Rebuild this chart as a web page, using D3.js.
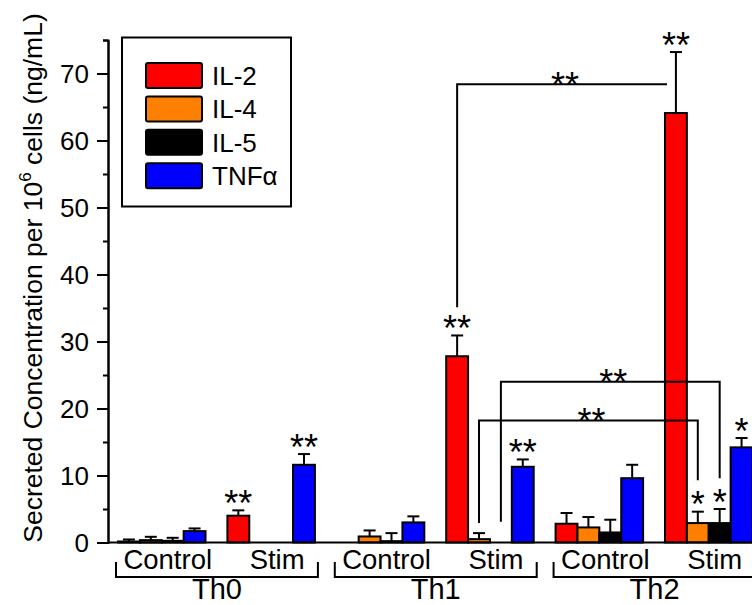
<!DOCTYPE html>
<html><head><meta charset="utf-8">
<script src="https://cdn.jsdelivr.net/npm/d3@7"></script>
<style>body{margin:0;background:#fff}svg{display:block;font-family:"Liberation Sans",Arial,Helvetica,sans-serif}</style>
</head><body><svg id="c" width="752" height="605"></svg>
<script>
// ---------- data ----------
const cells = ["Th0", "Th1", "Th2"];
const conditions = ["Control", "Stim"];
const groups = ["Th0|Control", "Th0|Stim", "Th1|Control", "Th1|Stim", "Th2|Control", "Th2|Stim"];
const cytokines = ["IL-2", "IL-4", "IL-5", "TNFα"];
const colors = ["#ff0000", "#ff8000", "#000000", "#0000ff"];

const il2Values  = [0.15, 4.0, 0,   27.8, 2.8,  64.1];
const il2Errors  = [0.3,  0.8, 0,   3.1,  1.6,  9.1];
const il4Values  = [0.35, 0,   0.9, 0.5,  2.25, 2.9];
const il4Errors  = [0.5,  0,   0.9, 0.9,  1.55, 1.7];
const il5Values  = [0.25, 0,   0.2, 0,    1.5,  2.9];
const il5Errors  = [0.45, 0,   1.2, 0,    1.9,  2.1];
const tnfValues  = [1.7,  11.6, 3.0, 11.3, 9.6, 14.2];
const tnfErrors  = [0.4,  1.6,  0.9, 1.1,  2.0, 1.4];

const yTicks = [0, 10, 20, 30, 40, 50, 60, 70];
const yMinorTicks = [5, 15, 25, 35, 45, 55, 65, 75];

// significance stars above bars
const starGroups    = ["Th0|Stim", "Th0|Stim", "Th1|Stim", "Th1|Stim", "Th2|Stim", "Th2|Stim", "Th2|Stim", "Th2|Stim"];
const starCytokines = ["IL-2", "TNFα", "IL-2", "TNFα", "IL-2", "IL-4", "IL-5", "TNFα"];
const starLabels    = ["**", "**", "**", "**", "**", "*", "*", "*"];

// comparison brackets
const bracketFrom      = [["Th1|Stim", "IL-2"], ["Th1|Stim", "IL-5"], ["Th1|Stim", "IL-4"]];
const bracketTo        = [["Th2|Stim", "IL-2"], ["Th2|Stim", "IL-5"], ["Th2|Stim", "IL-4"]];
const bracketLevel     = [68.4, 24.0, 18.2];
const bracketFromEnd   = [35.1, 3.1, 2.9];
const bracketToEnd     = [null, 9.6, 9.3];
const bracketLabels    = ["**", "**", "**"];

const yTitle = "Secreted Concentration per 10";
const yTitleSup = "6";
const yTitleEnd = " cells (ng/mL)";

// ---------- build ----------
const valuesBy = [il2Values, il4Values, il5Values, tnfValues];
const errorsBy = [il2Errors, il4Errors, il5Errors, tnfErrors];
const rows = [];
groups.forEach((g, gi) => cytokines.forEach((c, ci) => {
  rows.push({group: g, cytokine: c, value: valuesBy[ci][gi], error: errorsBy[ci][gi], color: colors[ci]});
}));
const lookup = (g, c) => rows.find(r => r.group === g && r.cytokine === c);

const svg = d3.select("#c");
const y = d3.scaleLinear().domain([0, 75]).range([542.5, 40]);
const x0 = d3.scaleBand().domain(groups).range([118, 752.5]).paddingInner(0.2).paddingOuter(0);
const x1 = d3.scaleBand().domain(cytokines).range([0, x0.bandwidth()]);
const axisX = 108;
const barCenter = (g, c) => x0(g) + x1(c) + x1.bandwidth() / 2;

// bars
const barsG = svg.append("g");
barsG.selectAll("rect").data(rows.filter(r => r.value > 0)).join("rect")
  .attr("x", d => x0(d.group) + x1(d.cytokine))
  .attr("y", d => y(d.value))
  .attr("width", x1.bandwidth())
  .attr("height", d => y(0) - y(d.value))
  .attr("fill", d => d.color)
  .attr("stroke", "#000").attr("stroke-width", 2);

// error bars
const errG = svg.append("g").attr("stroke", "#000").attr("stroke-width", 2);
rows.filter(r => r.error > 0).forEach(d => {
  const cx = barCenter(d.group, d.cytokine);
  errG.append("line").attr("x1", cx).attr("x2", cx).attr("y1", y(d.value)).attr("y2", y(d.value + d.error));
  errG.append("line").attr("x1", cx - 6).attr("x2", cx + 6).attr("y1", y(d.value + d.error)).attr("y2", y(d.value + d.error));
});

// axis
const axis = svg.append("g").attr("transform", `translate(${axisX},0)`)
  .call(d3.axisLeft(y).tickValues(yTicks).tickSize(11).tickSizeOuter(0).tickPadding(8).tickFormat(d3.format("d")));
axis.select(".domain").attr("stroke-width", 2);
axis.selectAll(".tick line").attr("stroke-width", 2);
axis.selectAll(".tick text").attr("font-size", 26).attr("font-family", '"Liberation Sans",Arial,sans-serif').attr("fill", "#000").attr("dy", "0.36em");
const minor = svg.append("g").attr("transform", `translate(${axisX},0)`)
  .call(d3.axisLeft(y).tickValues(yMinorTicks).tickSize(5).tickFormat(""));
minor.select(".domain").attr("stroke-width", 2);
minor.selectAll(".tick line").attr("stroke-width", 2);
// baseline
svg.append("line").attr("x1", axisX).attr("x2", 752).attr("y1", y(0)).attr("y2", y(0))
  .attr("stroke", "#000").attr("stroke-width", 2);

// y title
const yt = svg.append("text").attr("transform", `translate(42,278) rotate(-90)`)
  .attr("text-anchor", "middle").attr("font-size", 26.5).attr("fill", "#000");
yt.append("tspan").text(yTitle);
yt.append("tspan").attr("font-size", 17).attr("dy", -11).text(yTitleSup);
yt.append("tspan").attr("dy", 11).text(yTitleEnd);

// stars
const starFs = 36;
starGroups.forEach((g, i) => {
  const d = lookup(g, starCytokines[i]);
  const topY = y(d.value + d.error);
  svg.append("text").attr("x", barCenter(g, starCytokines[i])).attr("y", topY - 15 + 0.57 * starFs)
    .attr("text-anchor", "middle").attr("font-size", starFs).attr("fill", "#000").text(starLabels[i]);
});

// brackets
const brG = svg.append("g");
bracketFrom.forEach((f, i) => {
  const xa = barCenter(f[0], f[1]);
  const t = bracketTo[i];
  const xb = bracketToEnd[i] === null ? x0(t[0]) + x1(t[1]) + 2 : barCenter(t[0], t[1]);
  const ly = y(bracketLevel[i]);
  let p = `M${xa},${y(bracketFromEnd[i])}V${ly}H${xb}`;
  if (bracketToEnd[i] !== null) p += `V${y(bracketToEnd[i])}`;
  brG.append("path").attr("d", p).attr("fill", "none").attr("stroke", "#000").attr("stroke-width", 2);
  brG.append("text").attr("x", (xa + xb) / 2 + 3).attr("y", ly - 7 + 0.57 * starFs)
    .attr("text-anchor", "middle").attr("font-size", starFs).attr("fill", "#000").text(bracketLabels[i]);
});

// x labels
const labG = svg.append("g").attr("fill", "#000");
groups.forEach(g => {
  const cond = g.split("|")[1];
  labG.append("text").attr("x", x0(g) + x0.bandwidth() / 2 + 6).attr("y", 569)
    .attr("text-anchor", "middle").attr("font-size", 27.5).text(cond);
});
cells.forEach(c => {
  const xa = x0(c + "|Control") - 2;
  const xb = x0(c + "|Stim") + x0.bandwidth() + 3;
  svg.append("path").attr("d", `M${xa},562V577H${xb}V562`).attr("fill", "none").attr("stroke", "#000").attr("stroke-width", 2);
  labG.append("text").attr("x", (xa + xb) / 2).attr("y", 599).attr("text-anchor", "middle").attr("font-size", 29).text(c);
});

// legend
const lg = svg.append("g");
lg.append("rect").attr("x", 122).attr("y", 37.5).attr("width", 169).attr("height", 169)
  .attr("fill", "#fff").attr("stroke", "#000").attr("stroke-width", 2);
cytokines.forEach((c, i) => {
  const yy = 63 + i * 33.4;
  lg.append("rect").attr("x", 146).attr("y", yy).attr("width", 56).attr("height", 25).attr("rx", 2)
    .attr("fill", colors[i]).attr("stroke", "#000").attr("stroke-width", 2);
  lg.append("text").attr("x", 212).attr("y", yy + 12.5 + 9.5).attr("font-size", 26).attr("fill", "#000").text(c);
});
</script></body></html>
